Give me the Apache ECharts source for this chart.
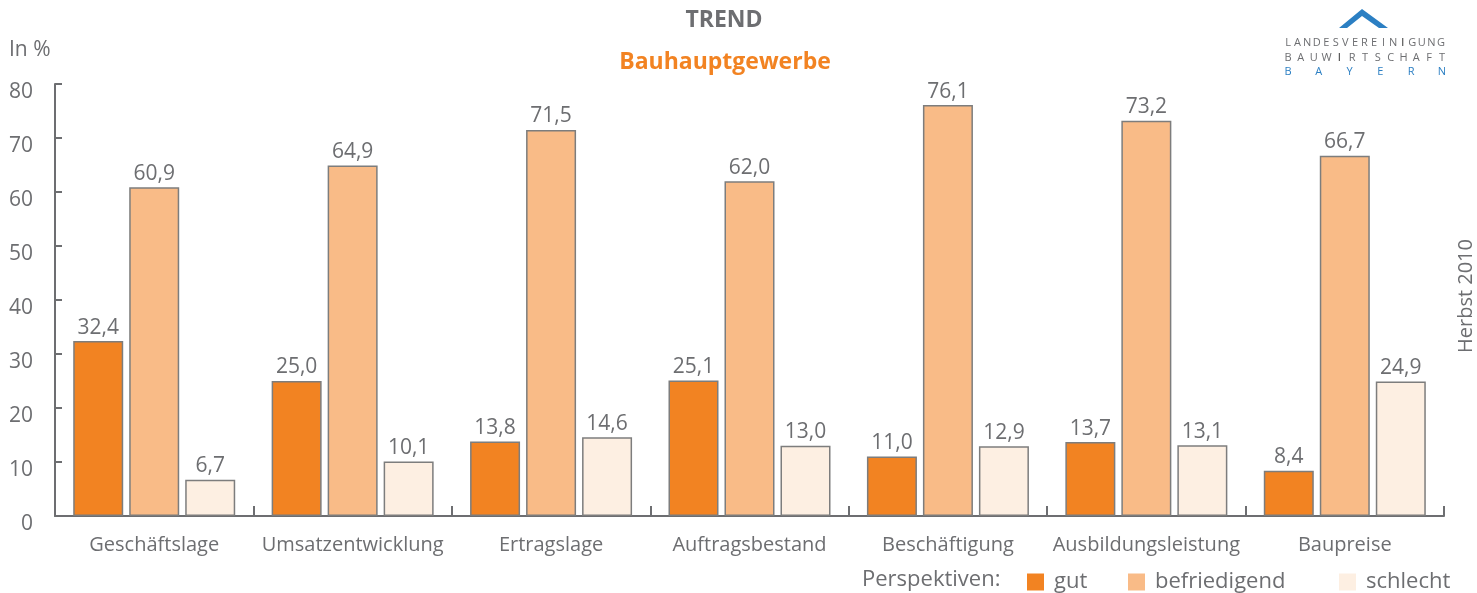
<!DOCTYPE html>
<html>
<head>
<meta charset="utf-8">
<script src="https://cdn.jsdelivr.net/npm/echarts@6/dist/echarts.min.js"></script>
<style>
  html, body { margin: 0; padding: 0; background: #fff; }
  #chart { width: 1477px; height: 593px; }
</style>
</head>
<body>
<div id="chart"></div>
<script>
var categories = ["Geschäftslage", "Umsatzentwicklung", "Ertragslage", "Auftragsbestand", "Beschäftigung", "Ausbildungsleistung", "Baupreise"];
var gut = [32.4, 25.0, 13.8, 25.1, 11.0, 13.7, 8.4];
var befriedigend = [60.9, 64.9, 71.5, 62.0, 76.1, 73.2, 66.7];
var schlecht = [6.7, 10.1, 14.6, 13.0, 12.9, 13.1, 24.9];

var FONT = "Open Sans";
var GRAY = "#6d6e71";
var ORANGE = "#f28322";
var BLUE = "#2b7fc3";

var myChart = echarts.init(document.getElementById("chart"));

// Logo-Schriftzug mit Sperrung, Buchstabe für Buchstabe
function spaced(word, y, color, x0, x1, dark) {
    var out = [];
    var step = (x1 - x0) / (word.length - 1);
    for (var i = 0; i < word.length; i++) {
        out.push({
            type: "text",
            x: x0 + i * step,
            y: y,
            style: {
                text: word[i],
                fill: dark && dark.indexOf(i) >= 0 ? "#222" : color,
                font: "11px " + FONT,
                textAlign: "center",
                textVerticalAlign: "middle"
            }
        });
    }
    return out;
}

function barSeries(name, data, color) {
    return {
        name: name,
        type: "bar",
        data: data,
        barWidth: 50,
        barGap: "12%",
        itemStyle: { color: color, borderColor: "#7d7d7d", borderWidth: 1.5 },
        label: {
            show: true,
            position: "top",
            distance: 3,
            color: GRAY,
            fontFamily: FONT,
            fontSize: 21,
            formatter: function (p) { return p.value.toFixed(1).replace(".", ","); }
        }
    };
}

function legendAt(name, left) {
    return {
        data: [name],
        left: left,
        top: 571,
        icon: "rect",
        itemWidth: 17,
        itemHeight: 17,
        itemGap: 0,
        padding: 0,
        itemStyle: { borderWidth: 0 },
        textStyle: { color: GRAY, fontFamily: FONT, fontSize: 22, padding: [0, 0, 0, 5] }
    };
}

var graphics = [
    { type: "text", x: 724, y: 20, style: { text: "TREND", fill: GRAY, font: "bold 23px " + FONT, textAlign: "center", textVerticalAlign: "middle" } },
    { type: "text", x: 725, y: 62, style: { text: "Bauhauptgewerbe", fill: ORANGE, font: "bold 23px " + FONT, textAlign: "center", textVerticalAlign: "middle" } },
    { type: "text", x: 9, y: 50, style: { text: "In %", fill: GRAY, font: "21px " + FONT, textVerticalAlign: "middle" } },
    { type: "text", x: 1466, y: 296, rotation: Math.PI / 2, style: { text: "Herbst 2010", fill: GRAY, font: "20px " + FONT, textAlign: "center", textVerticalAlign: "middle" } },
    { type: "text", x: 862, y: 580, style: { text: "Perspektiven:", fill: GRAY, font: "22px " + FONT, textVerticalAlign: "middle" } },
    { type: "polygon", shape: { points: [[1339, 28], [1362, 9], [1388, 28], [1379, 28], [1362, 16], [1347, 28]] }, style: { fill: BLUE } }
];
graphics = graphics
    .concat(spaced("LANDESVEREINIGUNG", 43, GRAY, 1288, 1441, [12]))
    .concat(spaced("BAUWIRTSCHAFT", 58, GRAY, 1288, 1442, [4]))
    .concat(spaced("BAYERN", 72, BLUE, 1288, 1442));

var option = {
    animation: false,
    backgroundColor: "#fff",
    textStyle: { fontFamily: FONT },
    grid: { left: 55, right: 33, top: 84, bottom: 77 },
    legend: [legendAt("gut", 1027), legendAt("befriedigend", 1128), legendAt("schlecht", 1339)],
    xAxis: {
        type: "category",
        data: categories,
        axisLine: { lineStyle: { color: GRAY, width: 2 } },
        axisTick: { show: true, inside: true, length: 10, lineStyle: { color: GRAY, width: 2 } },
        axisLabel: { interval: 0, color: GRAY, fontFamily: FONT, fontSize: 20, margin: 19 }
    },
    yAxis: {
        type: "value",
        min: 0,
        max: 80,
        interval: 10,
        splitLine: { show: false },
        axisLine: { show: true, lineStyle: { color: GRAY, width: 2 } },
        axisTick: { show: true, inside: true, length: 7, lineStyle: { color: GRAY, width: 2 } },
        axisLabel: { color: GRAY, fontFamily: FONT, fontSize: 21, margin: 22, verticalAlign: "top", lineHeight: 16 }
    },
    series: [
        barSeries("gut", gut, ORANGE),
        barSeries("befriedigend", befriedigend, "#f9bb87"),
        barSeries("schlecht", schlecht, "#fdefe2")
    ],
    graphic: graphics
};

myChart.setOption(option);
window.addEventListener("resize", function () {
    myChart.resize();
});
</script>
</body>
</html>
